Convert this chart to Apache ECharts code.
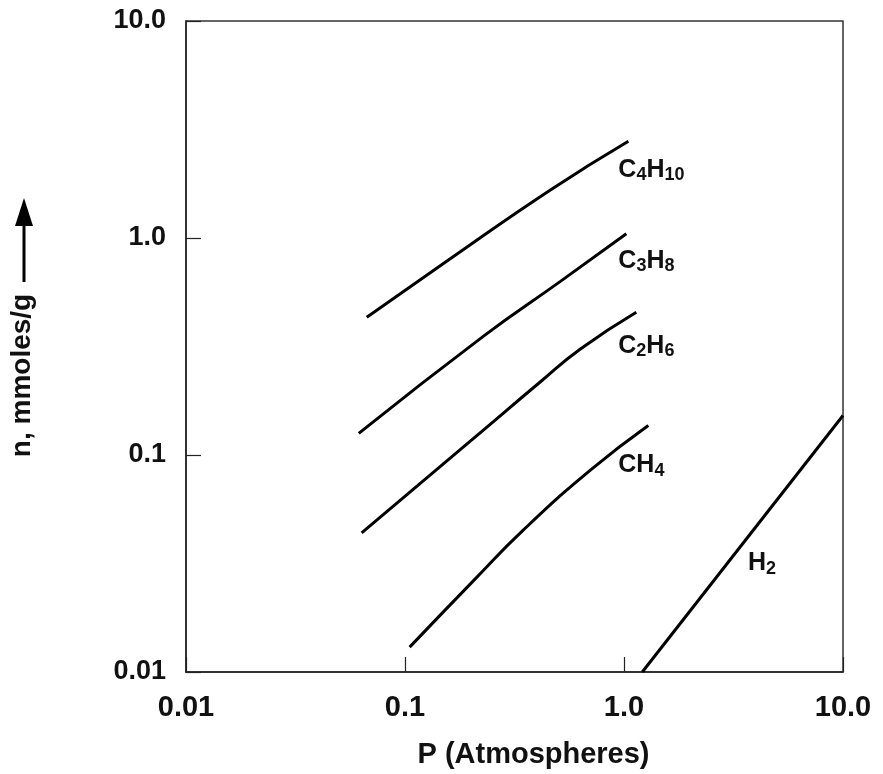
<!DOCTYPE html>
<html>
<head>
<meta charset="utf-8">
<script src="https://cdn.jsdelivr.net/npm/echarts@6/dist/echarts.min.js"></script>
<style>
html,body{margin:0;padding:0;background:#fff;}
#main{width:883px;height:774px;}
</style>
</head>
<body>
<div id="main"></div>
<script>
// isotherms (P in atm, n in mmoles/g)
var c4h10P = [0.0669, 0.1615, 0.4613, 1.047];
var c4h10N = [0.4316, 0.804, 1.665, 2.791];
var c3h8P = [0.0615, 0.2284, 0.5125, 1.025];
var c3h8N = [0.1257, 0.3532, 0.631, 1.047];
var c2h6P = [0.0634, 0.2056, 0.4156, 0.6323, 1.138];
var c2h6N = [0.0438, 0.1192, 0.2175, 0.308, 0.455];
var ch4P = [0.105, 0.2056, 0.3476, 0.7023, 1.291];
var ch4N = [0.01302, 0.02638, 0.04519, 0.0851, 0.1367];
var h2P = [1.212, 10];
var h2N = [0.01, 0.152];

var gasNames = ['C4H10', 'C3H8', 'C2H6', 'CH4', 'H2'];
var gasLabels = [
  '{m|C}{s|4}{m|H}{s|10}',
  '{m|C}{s|3}{m|H}{s|8}',
  '{m|C}{s|2}{m|H}{s|6}',
  '{m|CH}{s|4}',
  '{m|H}{s|2}'
];
var labelOffsets = [[-18, 29], [-16, 27], [-26, 34], [-38, 40], [-103, 148]];

function pairs(xs, ys){
  var out = [];
  for (var i = 0; i < xs.length; i++) out.push([xs[i], ys[i]]);
  return out;
}
var allData = [
  pairs(c4h10P, c4h10N),
  pairs(c3h8P, c3h8N),
  pairs(c2h6P, c2h6N),
  pairs(ch4P, ch4N),
  pairs(h2P, h2N)
];

function tickFmt(v){
  if (v >= 1) return v.toFixed(1);
  return String(+v.toPrecision(1));
}

var font = '"Liberation Sans", Arial, sans-serif';
var series = [];
for (var i = 0; i < allData.length; i++) {
  series.push({
    name: gasNames[i],
    type: 'line',
    data: allData[i],
    smooth: 0.5,
    showSymbol: false,
    symbol: 'none',
    lineStyle: {color: '#000', width: 3},
    endLabel: {
      show: true,
      formatter: gasLabels[i],
      offset: labelOffsets[i],
      color: '#111',
      rich: {
        m: {fontSize: 25, fontWeight: 'bold', fontFamily: font, color: '#111', lineHeight: 28},
        s: {fontSize: 18, fontWeight: 'bold', fontFamily: font, color: '#111', lineHeight: 12, verticalAlign: 'bottom'}
      }
    }
  });
}

var myChart = echarts.init(document.getElementById('main'));
var option = {
  animation: false,
  backgroundColor: '#fff',
  grid: {left: 185, right: 40, top: 21, bottom: 99, show: true, borderColor: '#333', borderWidth: 1.5},
  xAxis: {
    type: 'log', logBase: 10, min: 0.01, max: 10,
    name: 'P (Atmospheres)', nameLocation: 'middle', nameGap: 68,
    nameTextStyle: {fontSize: 29, fontWeight: 'bold', fontFamily: font, color: '#111', padding: [0, 0, 0, 38]},
    axisLine: {lineStyle: {color: '#222', width: 1.5}},
    axisTick: {inside: true, length: 15, lineStyle: {color: '#222', width: 1.2}},
    axisLabel: {fontSize: 29, fontWeight: 'bold', fontFamily: font, color: '#111', margin: 21, formatter: tickFmt},
    splitLine: {show: false}
  },
  yAxis: {
    type: 'log', logBase: 10, min: 0.01, max: 10,
    name: 'n, mmoles/g', nameLocation: 'middle', nameGap: 150, nameRotate: 90,
    nameTextStyle: {fontSize: 28, fontWeight: 'bold', fontFamily: font, color: '#111', padding: [0, 58, 0, 0]},
    axisLine: {lineStyle: {color: '#222', width: 1.5}},
    axisTick: {inside: true, length: 15, lineStyle: {color: '#222', width: 1.2}},
    axisLabel: {fontSize: 27, fontWeight: 'bold', fontFamily: font, color: '#111', margin: 20, formatter: tickFmt},
    splitLine: {show: false}
  },
  graphic: [
    {type: 'line', shape: {x1: 24, y1: 282, x2: 24, y2: 220}, style: {stroke: '#000', lineWidth: 3}},
    {type: 'polygon', shape: {points: [[24, 198], [15, 226], [33, 226]]}, style: {fill: '#000'}}
  ],
  series: series
};
myChart.setOption(option);
window.onresize = myChart.resize;
</script>
</body>
</html>
